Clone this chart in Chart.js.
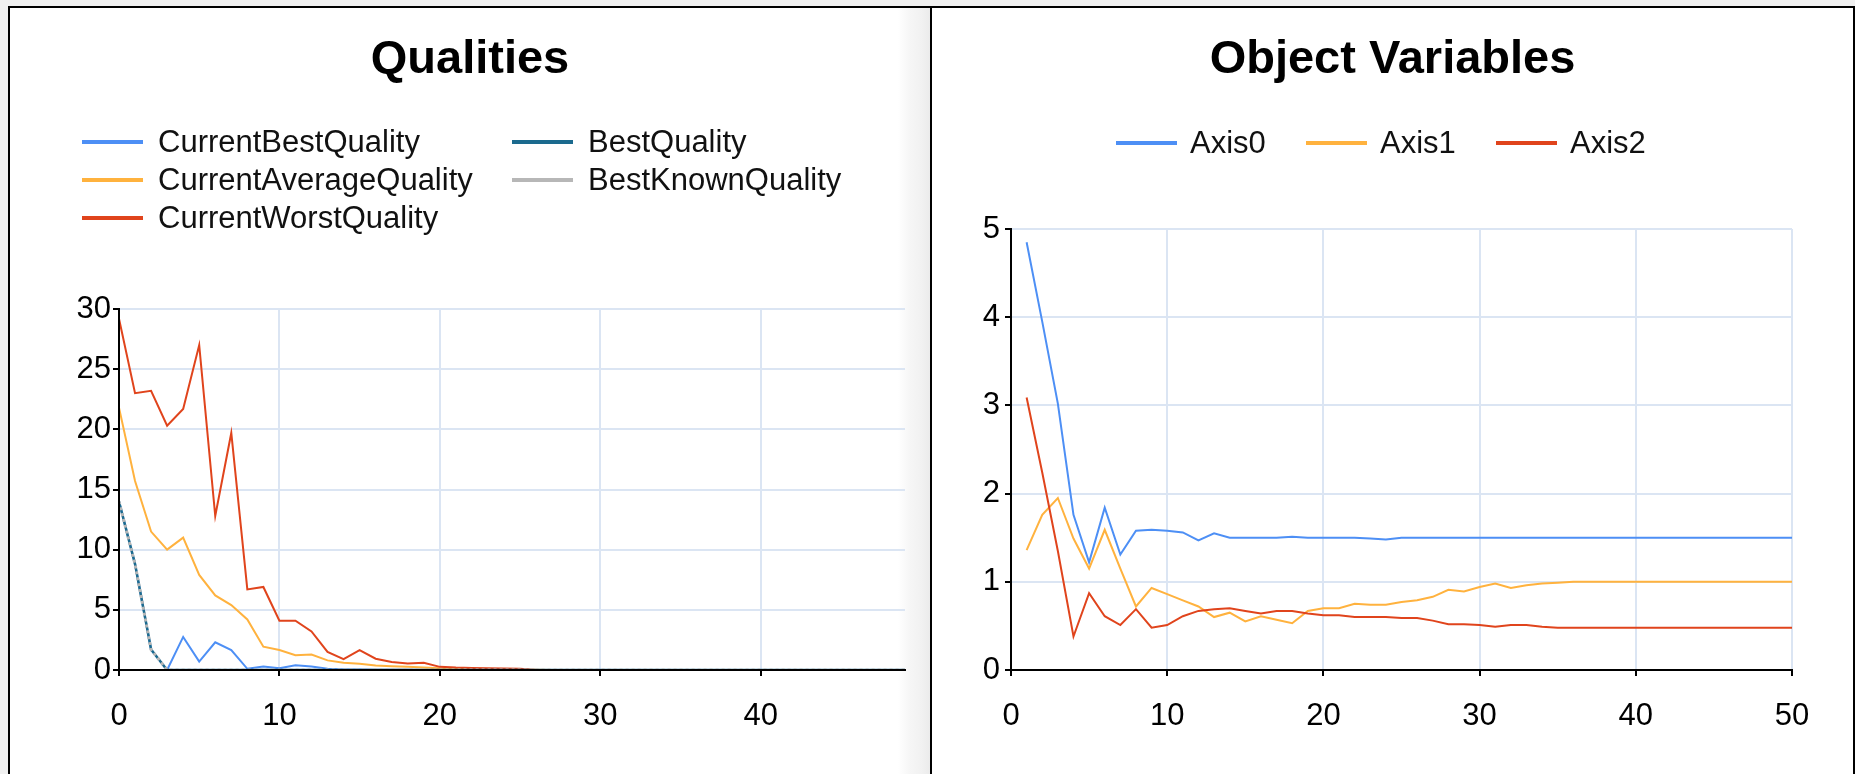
<!DOCTYPE html>
<html>
<head>
<meta charset="utf-8">
<script src="https://cdn.jsdelivr.net/npm/chart.js@4.4.1/dist/chart.umd.min.js"></script>
<style>
  html, body { margin: 0; padding: 0; width: 1855px; height: 774px; overflow: hidden; background: #f0f0f0; font-family: "Liberation Sans", Arial, sans-serif; }
  .panel { position: absolute; top: 6px; height: 768px; box-sizing: border-box; border-top: 2px solid #000; }
  #leftPanel { left: 8px; width: 922px; border-left: 2px solid #000;
    background: linear-gradient(to right, #fff 0px, #fff 888px, #f6f6f6 900px, #f1f1f1 912px, #ebebeb 920px); }
  #rightPanel { left: 930px; width: 925px; border-left: 2px solid #000; border-right: 2px solid #000; background: #fff; }
  canvas { position: absolute; top: 0; }
  #qualities { left: 25px; }
  #variables { left: 31px; }
  .legend { position: absolute; font-size: 31px; color: #111; }
  .legend .item { display: flex; align-items: center; height: 38px; white-space: nowrap; }
  .legend .swatch { display: inline-block; width: 61px; height: 4px; margin-right: 15px; }
  #qualLegend { left: 72px; top: 115px; display: grid; grid-template-columns: 430px auto; grid-auto-flow: column; grid-template-rows: 38px 38px 38px; }
  #varLegend { left: 184px; top: 116px; display: flex; }
  #varLegend .item { width: 190px; }
  #varLegend .swatch { margin-right: 13px; }
</style>
</head>
<body>
<div class="panel" id="leftPanel">
  <canvas id="qualities" width="880" height="766"></canvas>
  <div class="legend" id="qualLegend"></div>
</div>
<div class="panel" id="rightPanel">
  <canvas id="variables" width="869" height="766"></canvas>
  <div class="legend" id="varLegend"></div>
</div>
<script>
// ---------- Qualities chart data ----------
const generations = [0,1,2,3,4,5,6,7,8,9,10,11,12,13,14,15,16,17,18,19,20,21,22,23,24,25,26,27,28,29,30,31,32,33,34,35,36,37,38,39,40,41,42,43,44,45,46,47,48,49];
const currentBestQuality = [14,8.8,1.7,0,2.75,0.7,2.3,1.65,0.1,0.3,0.15,0.4,0.3,0.1,0.05,0.05,0.03,0.02,0.02,0.01,0.01,0,0,0,0,0,0,0,0,0,0,0,0,0,0,0,0,0,0,0,0,0,0,0,0,0,0,0,0,0];
const currentAverageQuality = [21.8,15.7,11.5,10.0,11.0,7.9,6.2,5.4,4.2,1.94,1.66,1.23,1.29,0.8,0.6,0.51,0.37,0.31,0.26,0.2,0.14,0.11,0.08,0.06,0.05,0.03,0.02,0.01,0,0,0,0,0,0,0,0,0,0,0,0,0,0,0,0,0,0,0,0,0,0];
const currentWorstQuality = [29.2,23.0,23.2,20.3,21.7,27.0,12.8,19.7,6.7,6.9,4.1,4.1,3.2,1.5,0.9,1.66,0.94,0.66,0.54,0.6,0.26,0.2,0.17,0.15,0.12,0.1,0,0,0,0,0,0,0,0,0,0,0,0,0,0,0,0,0,0,0,0,0,0,0,0];
const bestQuality = [14,8.8,1.7,0,0,0,0,0,0,0,0,0,0,0,0,0,0,0,0,0,0,0,0,0,0,0,0,0,0,0,0,0,0,0,0,0,0,0,0,0,0,0,0,0,0,0,0,0,0,0];
const bestKnownQuality = [14,8.8,1.7,0,0,0,0,0,0,0,0,0,0,0,0,0,0,0,0,0,0,0,0,0,0,0,0,0,0,0,0,0,0,0,0,0,0,0,0,0,0,0,0,0,0,0,0,0,0,0];
const qualitySeriesNames = ["CurrentBestQuality", "CurrentAverageQuality", "CurrentWorstQuality", "BestQuality", "BestKnownQuality"];
const qualityXTicks = [0, 10, 20, 30, 40];
const qualityYTicks = [0, 5, 10, 15, 20, 25, 30];

// ---------- Object Variables chart data ----------
const iterations = [1,2,3,4,5,6,7,8,9,10,11,12,13,14,15,16,17,18,19,20,21,22,23,24,25,26,27,28,29,30,31,32,33,34,35,36,37,38,39,40,41,42,43,44,45,46,47,48,49,50];
const axis0 = [4.85,3.95,3.02,1.76,1.22,1.84,1.31,1.58,1.59,1.58,1.56,1.47,1.55,1.5,1.5,1.5,1.5,1.51,1.5,1.5,1.5,1.5,1.49,1.48,1.5,1.5,1.5,1.5,1.5,1.5,1.5,1.5,1.5,1.5,1.5,1.5,1.5,1.5,1.5,1.5,1.5,1.5,1.5,1.5,1.5,1.5,1.5,1.5,1.5,1.5];
const axis1 = [1.36,1.76,1.95,1.49,1.15,1.59,1.15,0.72,0.93,0.86,0.79,0.72,0.6,0.65,0.55,0.61,0.57,0.53,0.67,0.7,0.7,0.75,0.74,0.74,0.77,0.79,0.83,0.91,0.89,0.94,0.98,0.93,0.96,0.98,0.99,1.0,1.0,1.0,1.0,1.0,1.0,1.0,1.0,1.0,1.0,1.0,1.0,1.0,1.0,1.0];
const axis2 = [3.09,2.24,1.35,0.38,0.87,0.61,0.51,0.69,0.48,0.51,0.61,0.67,0.69,0.7,0.67,0.64,0.67,0.67,0.64,0.62,0.62,0.6,0.6,0.6,0.59,0.59,0.56,0.52,0.52,0.51,0.49,0.51,0.51,0.49,0.48,0.48,0.48,0.48,0.48,0.48,0.48,0.48,0.48,0.48,0.48,0.48,0.48,0.48,0.48,0.48];
const variableSeriesNames = ["Axis0", "Axis1", "Axis2"];
const variableXTicks = [0, 10, 20, 30, 40, 50];
const variableYTicks = [0, 1, 2, 3, 4, 5];

// ---------- styling ----------
const BLUE = '#4d8ff5', ORANGE = '#ffb23e', RED = '#e0441c', TEAL = '#1b6a8e', GRAY = '#b7b7b7';
const FONT = '"Liberation Sans", Arial, sans-serif';
const GRID = '#dbe5f3';

function pts(xs, ys) { return ys.map((v, i) => ({ x: xs[i], y: v })); }

function line(label, xs, ys, color, order, extra) {
  return Object.assign({
    label, data: pts(xs, ys), borderColor: color, backgroundColor: color,
    borderWidth: 2, pointRadius: 0, tension: 0, fill: false, order
  }, extra || {});
}

function axisOpts(min, max, tickList, labelPad, sizeKey, sizeVal) {
  return {
    type: 'linear', min, max,
    afterBuildTicks: s => { s.ticks = tickList.map(v => ({ value: v })); },
    afterFit: s => { s[sizeKey] = sizeVal; },
    grid: { color: GRID, lineWidth: 2, tickColor: '#000', tickLength: 6, tickWidth: 2 },
    border: { color: '#000', width: 2, z: 1 },
    ticks: { color: '#000', font: { family: FONT, size: 31 }, padding: labelPad, maxRotation: 0, autoSkip: false }
  };
}

function titleOpts(text, bottomPad) {
  return {
    display: true, text, color: '#000',
    font: { family: FONT, size: 47, weight: 'bold', lineHeight: 1.2 },
    padding: { top: 24, bottom: bottomPad }
  };
}

Chart.defaults.font.family = FONT;

new Chart(document.getElementById('qualities'), {
  type: 'line',
  data: {
    datasets: [
      line(qualitySeriesNames[0], generations, currentBestQuality, BLUE, 4),
      line(qualitySeriesNames[1], generations, currentAverageQuality, ORANGE, 3),
      line(qualitySeriesNames[2], generations, currentWorstQuality, RED, 2),
      line(qualitySeriesNames[3], generations, bestQuality, TEAL, 1, { borderWidth: 2.5 }),
      line(qualitySeriesNames[4], generations, bestKnownQuality, GRAY, 0, { borderWidth: 3, borderDash: [3, 3] })
    ]
  },
  options: {
    responsive: false, animation: false, devicePixelRatio: 1,
    layout: { padding: { left: 0, right: 10, top: 0, bottom: 24 } },
    plugins: { legend: { display: false }, tooltip: { enabled: false }, title: titleOpts('Qualities', 220.6) },
    scales: {
      x: axisOpts(0, 49, qualityXTicks, 22, 'height', 80),
      y: axisOpts(0, 30, qualityYTicks, 2, 'width', 84)
    }
  }
});

new Chart(document.getElementById('variables'), {
  type: 'line',
  data: {
    datasets: [
      line(variableSeriesNames[0], iterations, axis0, BLUE, 2),
      line(variableSeriesNames[1], iterations, axis1, ORANGE, 1),
      line(variableSeriesNames[2], iterations, axis2, RED, 0)
    ]
  },
  options: {
    responsive: false, animation: false, devicePixelRatio: 1,
    layout: { padding: { left: 0, right: 10, top: 0, bottom: 24 } },
    plugins: { legend: { display: false }, tooltip: { enabled: false }, title: titleOpts('Object Variables', 140.6) },
    scales: {
      x: axisOpts(0, 50, variableXTicks, 22, 'height', 80),
      y: axisOpts(0, 5, variableYTicks, 5, 'width', 48),
      // invisible right-hand spacer axis that keeps the plot area where the reference has it
      ySpacer: {
        type: 'linear', position: 'right', min: 0, max: 5, display: true,
        afterFit: s => { s.width = 30; },
        grid: { display: false, drawTicks: false }, border: { display: false }, ticks: { display: false }
      }
    }
  }
});

// ---------- HTML legends built from the series names ----------
function buildLegend(el, names, colors) {
  names.forEach((n, i) => {
    const item = document.createElement('div');
    item.className = 'item';
    const sw = document.createElement('span');
    sw.className = 'swatch';
    sw.style.background = colors[i];
    const tx = document.createElement('span');
    tx.textContent = n;
    item.appendChild(sw); item.appendChild(tx);
    el.appendChild(item);
  });
}
buildLegend(document.getElementById('qualLegend'), qualitySeriesNames, [BLUE, ORANGE, RED, TEAL, GRAY]);
buildLegend(document.getElementById('varLegend'), variableSeriesNames, [BLUE, ORANGE, RED]);
</script>
</body>
</html>
